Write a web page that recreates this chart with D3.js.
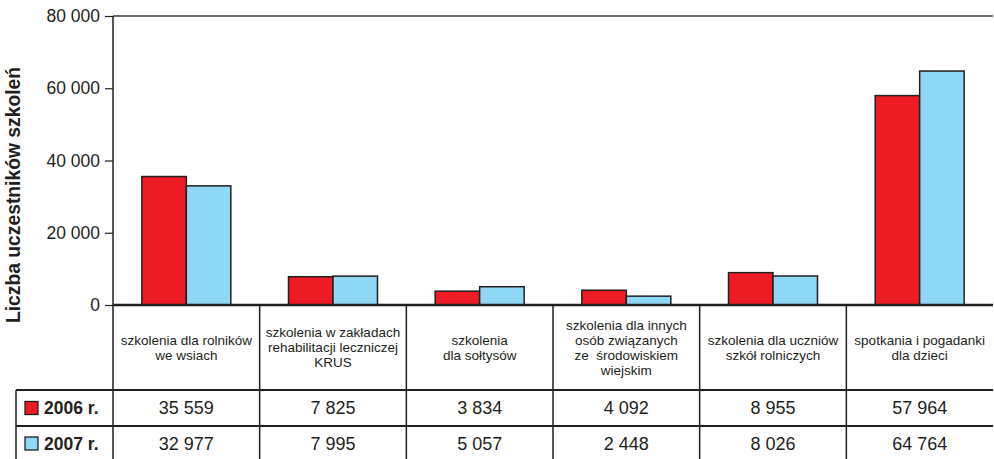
<!DOCTYPE html>
<html><head><meta charset="utf-8">
<script src="https://cdn.jsdelivr.net/npm/d3@7"></script>
<style>body{margin:0;background:#fff}svg{display:block}text{font-family:"Liberation Sans",Arial,sans-serif;fill:#231f20;white-space:pre}</style>
</head><body>
<svg id="c" width="994" height="459"></svg>
<script>
const categories = [
  ["szkolenia dla rolników", "we wsiach"],
  ["szkolenia w zakładach", "rehabilitacji leczniczej", "KRUS"],
  ["szkolenia", "dla sołtysów"],
  ["szkolenia dla innych", "osób związanych", "ze  środowiskiem", "wiejskim"],
  ["szkolenia dla uczniów", "szkół rolniczych"],
  ["spotkania i pogadanki", "dla dzieci"]
];
const seriesNames = ["2006 r.", "2007 r."];
const values2006 = [35559, 7825, 3834, 4092, 8955, 57964];
const values2007 = [32977, 7995, 5057, 2448, 8026, 64764];
const yTicks = [0, 20000, 40000, 60000, 80000];
const yTitle = "Liczba uczestników szkoleń";
const colors = ["#ed1c24", "#8fd8f5"];

const svg = d3.select("#c");
const ink = "#231f20";
const L = 113, R = 993, T = 16, B = 305, tableRow1 = 390, tableRow2 = 426, H = 459, legendL = 16;

const fmt = v => d3.format(",")(v).replace(/,/g, " ");
const series = [values2006, values2007];
const idx = d3.range(categories.length);

const x = d3.scaleBand().domain(idx).range([L, R]).paddingInner(0).paddingOuter(0);
const x1 = d3.scaleBand().domain([0, 1]).range([0, x.bandwidth()]).paddingInner(0).paddingOuter(0.648);
const y = d3.scaleLinear().domain([0, 80000]).range([B, T]);

// top frame line
svg.append("line").attr("x1", L).attr("x2", R).attr("y1", T).attr("y2", T).attr("stroke", "#3a3a3a").attr("stroke-width", 1.5);

// y axis
const yAxis = d3.axisLeft(y).tickValues(yTicks).tickFormat(fmt).tickSize(8).tickPadding(5);
const gy = svg.append("g").attr("transform", `translate(${L},0)`).call(yAxis);
gy.select(".domain").remove();
gy.selectAll(".tick line").attr("stroke", ink).attr("stroke-width", 1.2);
gy.selectAll(".tick text").style("font-size", "17.5px").attr("fill", ink);

// bars
const groups = svg.append("g").selectAll("g").data(idx).join("g")
  .attr("transform", i => `translate(${x(i)},0)`);
groups.selectAll("rect").data(i => series.map((s, k) => ({k, v: s[i]}))).join("rect")
  .attr("x", d => x1(d.k)).attr("width", x1.bandwidth())
  .attr("y", d => y(d.v)).attr("height", d => B - y(d.v))
  .attr("fill", d => colors[d.k]).attr("stroke", ink).attr("stroke-width", 1.5);

// y-axis line through table
svg.append("line").attr("x1", L).attr("x2", L).attr("y1", T).attr("y2", H).attr("stroke", ink).attr("stroke-width", 1.5);
// category separators
svg.append("g").selectAll("line").data(idx.slice(1)).join("line")
  .attr("x1", i => x(i)).attr("x2", i => x(i)).attr("y1", B).attr("y2", H)
  .attr("stroke", ink).attr("stroke-width", 1.5);
// table horizontal lines
[tableRow1, tableRow2].forEach(yy => svg.append("line").attr("x1", legendL).attr("x2", R).attr("y1", yy).attr("y2", yy).attr("stroke", ink).attr("stroke-width", 1.8));
svg.append("line").attr("x1", legendL).attr("x2", legendL).attr("y1", tableRow1).attr("y2", H).attr("stroke", ink).attr("stroke-width", 1.5);
// baseline
svg.append("line").attr("x1", L).attr("x2", R).attr("y1", B).attr("y2", B).attr("stroke", ink).attr("stroke-width", 2.5);

// category labels
const lh = 15, catMid = (B + tableRow1) / 2;
idx.forEach(i => {
  const lines = categories[i];
  const t = svg.append("text").attr("text-anchor", "middle").style("font-size", "13.5px")
    .attr("x", x(i) + x.bandwidth() / 2);
  lines.forEach((ln, j) => {
    t.append("tspan").attr("x", x(i) + x.bandwidth() / 2)
      .attr("y", catMid + (j - (lines.length - 1) / 2) * lh)
      .attr("dy", "0.35em").text(ln);
  });
});

// table values and legend
const rowMids = [(tableRow1 + tableRow2) / 2, (tableRow2 + H) / 2 + 1];
series.forEach((s, k) => {
  svg.append("g").selectAll("text").data(idx).join("text")
    .attr("x", i => x(i) + x.bandwidth() / 2).attr("y", rowMids[k]).attr("dy", "0.36em")
    .attr("text-anchor", "middle").style("font-size", "18px").text(i => fmt(s[i]));
  svg.append("rect").attr("x", 25).attr("y", rowMids[k] - 6.5).attr("width", 13).attr("height", 13)
    .attr("fill", colors[k]).attr("stroke", ink).attr("stroke-width", 1.3);
  svg.append("text").attr("x", 44).attr("y", rowMids[k]).attr("dy", "0.36em")
    .style("font-size", "17.5px").style("font-weight", "bold").text(seriesNames[k]);
});

// y title
svg.append("text").attr("transform", `translate(20,195) rotate(-90)`)
  .attr("text-anchor", "middle").style("font-size", "19.3px").style("font-weight", "bold").text(yTitle);
</script>
</body></html>
